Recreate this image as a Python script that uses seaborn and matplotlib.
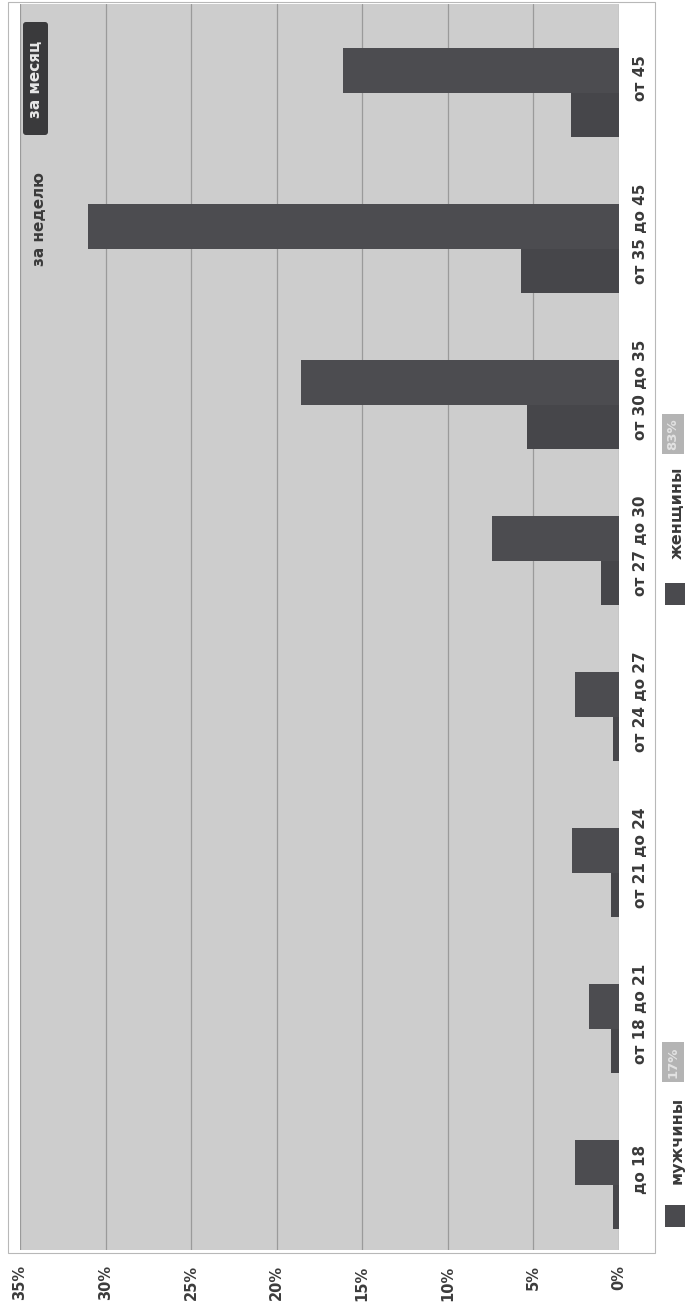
import numpy as np
import pandas as pd
import matplotlib
matplotlib.use("Agg")
import matplotlib.pyplot as plt
import matplotlib.transforms as mtransforms
import seaborn as sns
from matplotlib.patches import Rectangle, FancyBboxPatch

# ---- data ----
groups = ["до 18", "от 18 до 21", "от 21 до 24", "от 24 до 27",
          "от 27 до 30", "от 30 до 35", "от 35 до 45", "от 45"]
men = [0.35, 0.45, 0.45, 0.35, 1.05, 5.4, 5.7, 2.8]
women = [2.6, 1.75, 2.75, 2.6, 7.4, 18.6, 31.0, 16.1]
series = ["мужчины", "женщины"]
shares = ["17%", "83%"]
ticks = [0, 5, 10, 15, 20, 25, 30, 35]
tick_labels = [f"{t}%" for t in ticks]
buttons = ["за неделю", "за месяц"]

df = pd.DataFrame({
    "group": groups * 2,
    "sex": [series[0]] * len(groups) + [series[1]] * len(groups),
    "value": men + women,
})

sns.set_theme(style="white")
plt.rcParams["font.family"] = ["DejaVu Sans"]

W, H = 687, 1314
fig = plt.figure(figsize=(W / 100, H / 100), dpi=100)
fig.patch.set_facecolor("white")


def fx(px):
    return px / W


def fy(py):
    return 1 - py / H


# outer white frame
fig.patches.append(Rectangle((fx(8), fy(1253)), fx(655) - fx(8), fy(2) - fy(1253),
                             transform=fig.transFigure, fc="white", ec="#b8b8b8",
                             lw=0.8, zorder=-10))

ax = fig.add_axes([fx(20), fy(1250), fx(619) - fx(20), fy(4) - fy(1250)])
ax.set_zorder(2)
ax.set_facecolor("#cdcdcd")
ax.set_axisbelow(True)
sns.barplot(data=df, y="group", x="value", hue="sex", order=groups,
            hue_order=series, palette=["#46464a", "#4c4c50"], width=0.57,
            orient="h", saturation=1, legend=False, ax=ax, linewidth=0)

ax.set_xlim(35, 0)
ax.set_ylim(-0.42, 7.57)
ax.set_xticks(ticks)
ax.set_xticklabels(tick_labels, rotation=90, fontsize=10.5, fontweight="bold",
                   color="#3c3c3c")
ax.xaxis.grid(True, color="#9a9a9a", lw=0.9)
ax.yaxis.grid(False)
ax.tick_params(axis="x", length=0, pad=11)
ax.yaxis.tick_right()
ax.set_yticks(range(len(groups)))
ax.set_yticklabels(groups, rotation=90, fontsize=11, fontweight="bold",
                   color="#3a3a3a", va="center", ha="left")
ax.tick_params(axis="y", length=0, pad=10)
shift = mtransforms.ScaledTranslation(0, 0.15, fig.dpi_scale_trans)
for lab in ax.get_yticklabels():
    lab.set_transform(lab.get_transform() + shift)
ax.set_xlabel("")
ax.set_ylabel("")
for s in ax.spines.values():
    s.set_visible(False)

# buttons (top-left), drawn in pixel coordinates
ident = mtransforms.IdentityTransform()
btn = FancyBboxPatch((23, H - 135), 25, 113, boxstyle="round,pad=0,rounding_size=3",
                     transform=ident, fc="#3a3a3c", ec="none", zorder=4)
fig.patches.append(btn)
btn.set_figure(fig)
fig.text(fx(36), fy(79), buttons[1], rotation=90, ha="center", va="center",
         fontsize=11, fontweight="bold", color="#e8e8e8", zorder=5)
fig.text(fx(40), fy(219), buttons[0], rotation=90, ha="center", va="center",
         fontsize=11, fontweight="bold", color="#3a3a3a", zorder=5)

# legend (right side)
leg = [(series[0], shares[0], 1216, 1140, 1062), (series[1], shares[1], 594, 513, 434)]
for name, share, ysq, ytxt, ybadge in leg:
    fig.patches.append(Rectangle((fx(665), fy(ysq + 11)), fx(20), 22 / H,
                                 transform=fig.transFigure, fc="#4a4a4e", ec="none"))
    fig.text(fx(677), fy(ytxt), name, rotation=90, ha="center", va="center",
             fontsize=11.5, fontweight="bold", color="#3a3a3a")
    fig.text(fx(673), fy(ybadge), share, rotation=90, ha="center", va="center",
             fontsize=9.5, fontweight="bold", color="#e2e2e2",
             bbox=dict(boxstyle="square,pad=0.35", fc="#b4b4b4", ec="none"))

fig.savefig("out.png", dpi=100, facecolor="white")
